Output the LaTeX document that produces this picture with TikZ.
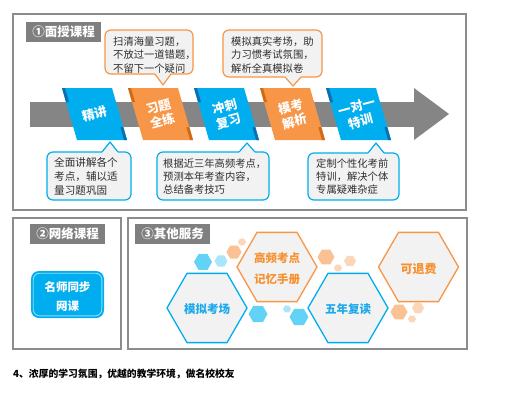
\documentclass[tikz,border=0pt]{standalone}
\usepackage{fontspec}
\setmainfont{Noto Sans CJK SC}
\newfontfamily\cjk{Noto Sans CJK SC}
\definecolor{myblue}{HTML}{00AEEF}
\definecolor{mybluedark}{HTML}{0B6FB0}
\definecolor{myorange}{HTML}{F79646}
\definecolor{myorangedark}{HTML}{D26A14}
\definecolor{cfill}{HTML}{F2F2F2}
\definecolor{titlegray}{HTML}{7F7F7F}
\definecolor{panelgray}{HTML}{8C8C8C}
\definecolor{bandgray}{HTML}{858585}
\definecolor{ctext}{HTML}{2E2E2E}
\definecolor{hexblue}{HTML}{1BA9EC}
\definecolor{hexorange}{HTML}{F7902F}
\definecolor{decoblue}{HTML}{62D2F7}
\definecolor{decobluel}{HTML}{A9E6FB}
\definecolor{decoor}{HTML}{F9C194}
\definecolor{decoorl}{HTML}{FBD6B8}
\usetikzlibrary{calc}
\tikzset{
  panel/.style={draw=panelgray, line width=1.2pt, fill=white},
  titlebox/.style={fill=titlegray, text=white, minimum width=75pt, minimum height=20pt, inner sep=0pt, font=\cjk\bfseries\fontsize{12.5}{14}\selectfont},
  cbO/.style={draw=myorange, line width=1.2pt, fill=cfill},
  cbB/.style={draw=myblue, line width=1.2pt, fill=cfill},
  ctxt/.style={text=ctext, align=left, anchor=west, inner sep=0pt, font=\cjk\fontsize{10.3}{13.4}\selectfont},
  rtxt/.style={text=white, align=center, rotate=15, inner sep=0pt, font=\cjk\bfseries\fontsize{12.5}{15}\selectfont},
  hexB/.style={draw=myblue, line width=1.3pt, fill=cfill},
  hexO/.style={draw=myorange, line width=1.3pt, fill=cfill},
  htxtB/.style={text=hexblue, align=center, inner sep=0pt, font=\cjk\bfseries\fontsize{11.5}{21}\selectfont},
  htxtO/.style={text=hexorange, align=center, inner sep=0pt, font=\cjk\bfseries\fontsize{11.5}{21}\selectfont},
}
% hexagon: center x, center y, radius, style
\newcommand\myhex[4]{\path[#4, shift={(#1,#2)}] (0:#3) -- (60:#3) -- (120:#3) -- (180:#3) -- (240:#3) -- (300:#3) -- cycle;}
% ribbon: left x, fill, dark, text, name
\newcommand\myribbon[5]{%
  \fill[#2] (#1,88) -- ({#1+50},88) -- ({#1+65},140) -- ({#1+15},140) -- cycle;
  \fill[#3] (#1,88) -- ({#1+3},88) -- ({#1+7},102) -- ({#1+4},102) -- cycle;
  \fill[#3] ({#1+61.3},127) -- ({#1+65},140) -- ({#1+62},140) -- ({#1+58.3},127) -- cycle;
  \node[rtxt] (#5) at ({#1+32.5},114) {#4};}
\begin{document}
\begin{tikzpicture}[x=1pt,y=-1pt]
\useasboundingbox[fill=white] (0,0) rectangle (525,400);
% panels
\path[panel] (13,14) rectangle (466,210);
\path[panel] (13,218) rectangle (121,349);
\path[panel] (128,218) rectangle (467,349);
\node[titlebox] (t1) at (63.5,32) {①面授课程};
\node[titlebox] (t2) at (67.5,233.5) {②网络课程};
\node[titlebox] (t3) at (172.5,233.5) {③其他服务};
% band arrow
\fill[bandgray] (30,102) rectangle (415,127);
\fill[bandgray] (414,88) -- (449,114) -- (414,140) -- cycle;
% ribbons
\myribbon{62}{myblue}{mybluedark}{精讲}{r1}
\myribbon{128}{myorange}{myorangedark}{习题\\全练}{r2}
\myribbon{194}{myblue}{mybluedark}{冲刺\\复习}{r3}
\myribbon{260}{myorange}{myorangedark}{模考\\解析}{r4}
\myribbon{326}{myblue}{mybluedark}{一对一\\特训}{r5}
% top callouts
\path[cbO, rounded corners=6pt] (105,30) rectangle (193,74);
\fill[cfill] (154.5,72.8) -- (163,85) -- (171.5,72.8) -- cycle;
\draw[myorange, line width=1.2pt, line join=round] (155,74) -- (163,85) -- (171,74);
\node[ctxt] (c1) at (113,55) {扫清海量习题，\\不放过一道错题，\\不留下一个疑问};
\path[cbO, rounded corners=6pt] (223,30) rectangle (322,77);
\fill[cfill] (284.5,75.8) -- (293,86) -- (301.5,75.8) -- cycle;
\draw[myorange, line width=1.2pt, line join=round] (285,77) -- (293,86) -- (301,77);
\node[ctxt] (c2) at (231,55) {模拟真实考场，助\\力习惯考试氛围，\\解析全真模拟卷};
% bottom callouts
\path[cbB, rounded corners=6pt] (47,152) rectangle (131,200);
\fill[cfill] (101.5,153.2) -- (110,142) -- (118.5,153.2) -- cycle;
\draw[myblue, line width=1.2pt, line join=round] (102,152) -- (110,142) -- (118,152);
\node[ctxt, font=\cjk\fontsize{10.6}{13.6}\selectfont] (c3) at (54,176.5) {全面讲解各个\\考点，辅以适\\量习题巩固};
\path[cbB, rounded corners=6pt] (157,152) rectangle (269,200);
\fill[cfill] (238.5,153.2) -- (247,143) -- (255.5,153.2) -- cycle;
\draw[myblue, line width=1.2pt, line join=round] (239,152) -- (247,143) -- (255,152);
\node[ctxt] (c4) at (163,176.5) {根据近三年高频考点，\\预测本年考查内容，\\总结备考技巧};
\path[cbB, rounded corners=6pt] (308,153) rectangle (399,200);
\fill[cfill] (367.5,154.2) -- (376,143) -- (384.5,154.2) -- cycle;
\draw[myblue, line width=1.2pt, line join=round] (368,153) -- (376,143) -- (384,153);
\node[ctxt] (c5) at (316,176.5) {定制个性化考前\\特训，解决个体\\专属疑难杂症};
% network course button
\fill[myblue, rounded corners=8pt] (31,271) rectangle (104,318);
\draw[white!55!myblue, line width=0.9pt, rounded corners=6.5pt] (33.2,273.2) rectangle (101.8,315.8);
\node[text=white, align=center, inner sep=0pt, font=\cjk\bfseries\fontsize{11.5}{19}\selectfont] (b1) at (67.5,296.5) {名师同步\\网课};
% decorative hexagons
\myhex{203}{262}{9}{fill=decoblue}
\myhex{221}{261}{6.5}{fill=decobluel}
\myhex{258}{314}{9.5}{fill=decoblue}
\myhex{287}{309}{4}{fill=decobluel}
\myhex{299}{317}{9.5}{fill=decoblue}
\myhex{234}{252}{7.5}{fill=decoor}
\myhex{242}{242}{4}{fill=decoorl}
\myhex{326}{257}{8.5}{fill=decoor}
\myhex{338}{268}{4}{fill=decoorl}
\myhex{350}{261}{6}{fill=decoorl}
\myhex{399}{312}{8.5}{fill=decoor}
\myhex{418}{308}{6}{fill=decoorl}
\myhex{412}{319}{4}{fill=decoorl}
% big hexagons
\myhex{207}{308}{40}{hexB}
\myhex{277}{267}{40}{hexO}
\myhex{348}{308}{40}{hexB}
\myhex{418.5}{267}{40}{hexO}
\node[htxtB] (h1) at (207,309) {模拟考场};
\node[htxtO] (h2) at (277,268.5) {高频考点\\记忆手册};
\node[htxtB] (h3) at (348,309) {五年复读};
\node[htxtO, font=\cjk\bfseries\fontsize{12}{14}\selectfont] (h4) at (418.5,269) {可退费};
% bottom text
\node[anchor=west, inner sep=0pt, font=\cjk\bfseries\fontsize{9.8}{12}\selectfont] (ft) at (13,374) {4、浓厚的学习氛围，优越的教学环境，做名校校友};
\end{tikzpicture}
\end{document}
